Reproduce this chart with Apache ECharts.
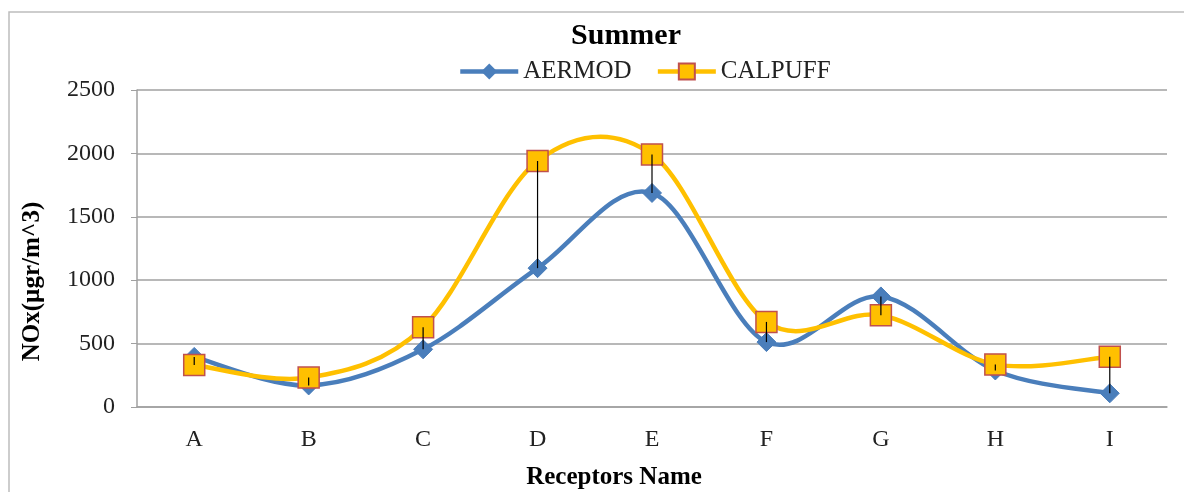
<!DOCTYPE html>
<html>
<head>
<meta charset="utf-8">
<script src="https://cdn.jsdelivr.net/npm/echarts@6/dist/echarts.min.js"></script>
<style>
html,body{margin:0;padding:0;background:#fff;}
#chart{width:1184px;height:492px;}
</style>
</head>
<body>
<div id="chart"></div>
<script>
var categories = ['A','B','C','D','E','F','G','H','I'];
var aermod = [395, 170, 455, 1095, 1688, 512, 872, 288, 108];
var calpuff = [332, 232, 628, 1940, 1992, 671, 723, 336, 397];
var yTicks = [0, 500, 1000, 1500, 2000, 2500];

var serif = '"Liberation Serif", "Times New Roman", serif';
var BLUE = '#4A7EBB', GOLD = '#FFC000';
var chart = echarts.init(document.getElementById('chart'));
var dropData = categories.map(function (c, i) { return [i, aermod[i], calpuff[i]]; });

// Excel-like (Catmull-Rom) smoothed curve, drawn segment by segment through the axis scales
function curveSeries(name, arr, color, z) {
  return {
    name: name + ' curve', type: 'custom', z: z, silent: true,
    data: arr.map(function (v, i) { return [i, v]; }),
    encode: { x: 0, y: 1 },
    renderItem: function (params, api) {
      var i = params.dataIndex, n = arr.length;
      if (i >= n - 1) return null;
      function P(j) { j = Math.max(0, Math.min(n - 1, j)); return api.coord([j, arr[j]]); }
      var p0 = P(i - 1), p1 = P(i), p2 = P(i + 1), p3 = P(i + 2);
      var t = 1 / 6;
      return {
        type: 'bezierCurve',
        shape: {
          x1: p1[0], y1: p1[1], x2: p2[0], y2: p2[1],
          cpx1: p1[0] + (p2[0] - p0[0]) * t, cpy1: p1[1] + (p2[1] - p0[1]) * t,
          cpx2: p2[0] - (p3[0] - p1[0]) * t, cpy2: p2[1] - (p3[1] - p1[1]) * t
        },
        style: { stroke: color, lineWidth: 4.5, fill: null, lineCap: 'round' }
      };
    }
  };
}

chart.setOption({
  animation: false,
  backgroundColor: '#fff',
  graphic: [{
    type: 'rect', z: -10,
    shape: { x: 9, y: 12, width: 1200, height: 500 },
    style: { fill: 'none', stroke: '#BDBDBD', lineWidth: 1.5 }
  }],
  title: {
    text: 'Summer', left: 621, top: 16, textAlign: 'center',
    textStyle: { fontFamily: serif, fontWeight: 'bold', fontSize: 30, color: '#000' }
  },
  legend: {
    data: [
      { name: 'AERMOD', lineStyle: { color: BLUE, width: 4.5, opacity: 1 } },
      { name: 'CALPUFF', lineStyle: { color: GOLD, width: 4.5, opacity: 1 } }
    ],
    left: 453, top: 54,
    itemWidth: 58, itemHeight: 20, itemGap: 24,
    textStyle: { fontFamily: serif, fontSize: 25, color: '#222' }
  },
  grid: { left: 137, right: 17, top: 90, bottom: 85, containLabel: false, outerBoundsMode: 'none' },
  xAxis: {
    type: 'category', data: categories, boundaryGap: true,
    name: 'Receptors Name', nameLocation: 'middle', nameGap: 58,
    nameTextStyle: { fontFamily: serif, fontWeight: 'bold', fontSize: 25, color: '#000', padding: [0, 76, 0, 0] },
    axisLine: { lineStyle: { color: '#A0A0A0', width: 1.5 } },
    axisTick: { show: false },
    axisLabel: { fontFamily: serif, fontSize: 24, color: '#222', margin: 21 }
  },
  yAxis: {
    type: 'value', min: yTicks[0], max: yTicks[yTicks.length - 1], interval: 500,
    name: 'NOx(µgr/m^3)', nameLocation: 'middle', nameGap: 92,
    nameTextStyle: { fontFamily: serif, fontWeight: 'bold', fontSize: 25, color: '#000', padding: [0, 66, 0, 0] },
    axisLine: { show: true, lineStyle: { color: '#A0A0A0', width: 1.5 } },
    axisTick: { show: true, inside: false, length: 6, lineStyle: { color: '#A0A0A0' } },
    axisLabel: { fontFamily: serif, fontSize: 24, color: '#222', margin: 22, formatter: function (v) { return String(v); } },
    splitLine: { lineStyle: { color: '#A0A0A0', width: 1.5 } }
  },
  series: [
    curveSeries('AERMOD', aermod, BLUE, 2),
    {
      name: 'AERMOD', type: 'line', data: aermod, smooth: false,
      symbol: 'diamond', symbolSize: 19,
      lineStyle: { color: BLUE, width: 4.5, opacity: 0 },
      itemStyle: { color: BLUE, borderColor: BLUE },
      z: 3
    },
    curveSeries('CALPUFF', calpuff, GOLD, 4),
    {
      name: 'CALPUFF', type: 'line', data: calpuff, smooth: false,
      symbol: 'rect', symbolSize: 21,
      lineStyle: { color: GOLD, width: 4.5, opacity: 0 },
      itemStyle: { color: GOLD, borderColor: '#C0504D', borderWidth: 1.5 },
      z: 5
    },
    {
      name: 'drop', type: 'custom', data: dropData, z: 10, silent: true,
      renderItem: function (params, api) {
        var p1 = api.coord([api.value(0), api.value(1)]);
        var p2 = api.coord([api.value(0), api.value(2)]);
        return {
          type: 'line',
          shape: { x1: p1[0], y1: p1[1], x2: p2[0], y2: p2[1] },
          style: { stroke: '#000', lineWidth: 1.2 }
        };
      }
    }
  ]
});
</script>
</body>
</html>
